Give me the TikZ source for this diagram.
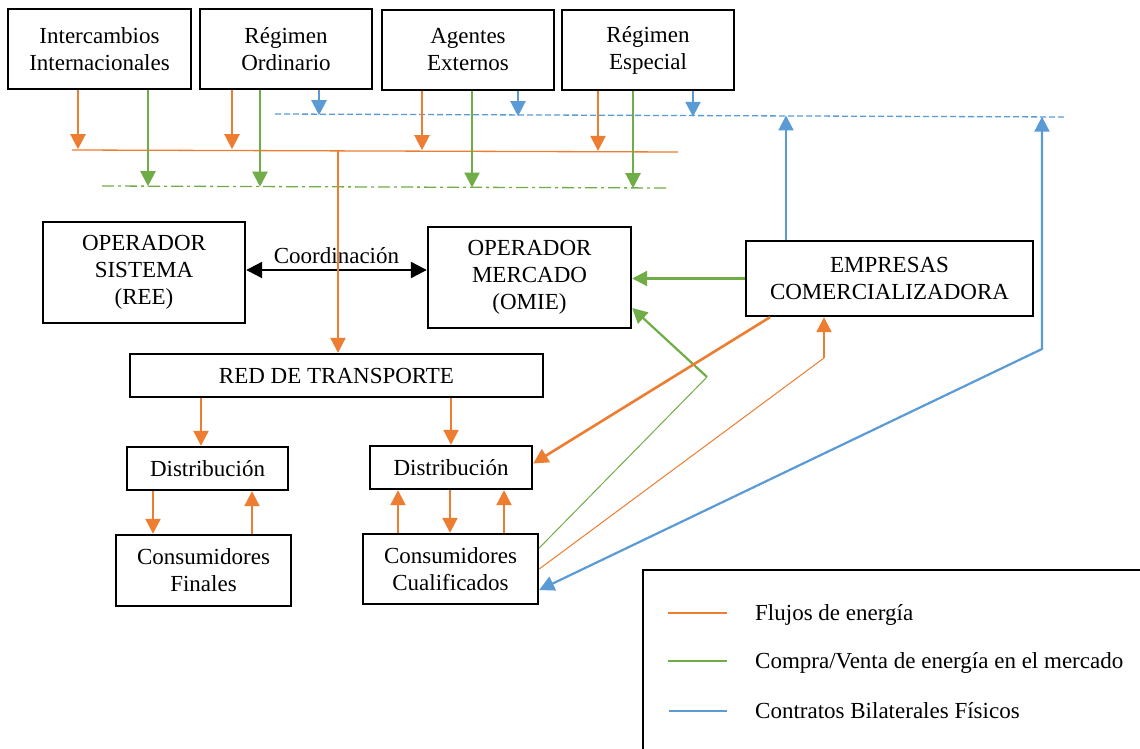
\documentclass[tikz,border=0pt]{standalone}
\usepackage{fontspec}
\setmainfont{Liberation Serif}
\usetikzlibrary{arrows.meta,calc}
\definecolor{eorange}{HTML}{ED7D31}
\definecolor{egreen}{HTML}{70AD47}
\definecolor{eblue}{HTML}{5B9BD5}
\begin{document}
\begin{tikzpicture}[x=1pt,y=-1pt,
  box/.style={draw=black,line width=2.4pt,align=center,inner sep=0pt,font=\fontsize{23}{27}\selectfont},
  lbl/.style={inner sep=0pt,font=\fontsize{23}{27}\selectfont},
  oarr/.style={eorange,line width=2.2pt,-{Triangle[width=15pt,length=15pt]}},
  garr/.style={egreen,line width=2.2pt,-{Triangle[width=15pt,length=15pt]}},
  barr/.style={eblue,line width=2.2pt,-{Triangle[width=15pt,length=15pt]}},
  karr/.style={black,line width=2.2pt,{Triangle[width=16pt,length=16pt]}-{Triangle[width=16pt,length=16pt]}},
  obus/.style={eorange,line width=1.3pt},
  gbus/.style={egreen,line width=1.3pt,dash pattern=on 12pt off 4pt on 3pt off 4pt},
  bbus/.style={eblue,line width=1.3pt,dash pattern=on 6pt off 3pt}]
\useasboundingbox (0,0) rectangle (1140,749);
\fill[white] (0,0) rectangle (1140,749);
\clip (0,0) rectangle (1140,749);

% top boxes
\node[box,minimum width=183pt,minimum height=80pt] (ii) at (99.5,49) {Intercambios\\Internacionales};
\node[box,minimum width=172pt,minimum height=80pt] (ro) at (286,49) {Régimen\\Ordinario};
\node[box,minimum width=172pt,minimum height=80pt] (ae) at (468,50) {Agentes\\Externos};
\node[box,minimum width=172pt,minimum height=80pt] (re) at (648,50) {Régimen\\Especial};

% middle boxes
\node[box,minimum width=202pt,minimum height=101pt] (os) at (144,272.5) {OPERADOR\\SISTEMA\\(REE)};
\node[box,minimum width=203pt,minimum height=101pt] (om) at (529.5,277.5) {OPERADOR\\MERCADO\\(OMIE)};
\node[box,minimum width=287pt,minimum height=75pt] (ec) at (889.5,278.5) {EMPRESAS\\COMERCIALIZADORA};
\node[box,minimum width=413pt,minimum height=43pt] (rt) at (336.5,375.5) {RED DE TRANSPORTE};
\node[box,minimum width=161pt,minimum height=43pt] (d1) at (207.5,468.5) {Distribución};
\node[box,minimum width=162pt,minimum height=43pt] (d2) at (451,467.5) {Distribución};
\node[box,minimum width=175pt,minimum height=71pt] (cf) at (203.5,570.5) {Consumidores\\Finales};
\node[box,minimum width=175pt,minimum height=70pt] (cc) at (450.5,569) {Consumidores\\Cualificados};

% buses
\coordinate (obL) at (72,150); \coordinate (obR) at (678,152);
\coordinate (gbL) at (102,186); \coordinate (gbR) at (667,188);
\coordinate (bbL) at (275,114); \coordinate (bbR) at (1065,117);
\draw[obus] (obL) -- (obR);
\draw[gbus] (gbL) -- (gbR);
\draw[bbus] (bbL) -- (bbR);

% top arrows
\draw[oarr] ([xshift=-21.5pt]ii.south) -- ++(0,59);
\draw[garr] ([xshift=48.5pt]ii.south) -- ++(0,96);
\draw[oarr] ([xshift=-54pt]ro.south) -- ++(0,59);
\draw[garr] ([xshift=-26pt]ro.south) -- ++(0,96.5);
\draw[barr] ([xshift=33pt]ro.south) -- ++(0,25);
\draw[oarr] ([xshift=-46pt]ae.south) -- ++(0,59);
\draw[garr] ([xshift=4pt]ae.south) -- ++(0,96.3);
\draw[barr] ([xshift=50pt]ae.south) -- ++(0,25);
\draw[oarr] ([xshift=-50pt]re.south) -- ++(0,59.7);
\draw[garr] ([xshift=-15pt]re.south) -- ++(0,97);
\draw[barr] ([xshift=45pt]re.south) -- ++(0,25.6);

% coordination
\draw[karr] ([yshift=2.5pt]os.east) -- ([yshift=2.5pt]os.east -| om.west)
  node[lbl,midway,above=5pt] (coord) {Coordinación};

% orange down to red de transporte
\coordinate (ob) at (338,151);
\draw[oarr] (ob) -- (ob |- rt.north);

% empresas connections
\draw[garr] (ec.west) -- (ec.west -| om.east);
\draw[barr] ([xshift=-103.5pt]ec.north) -- ++(0,-124.3);
\coordinate (bt) at (1042,116.7);
\coordinate (bm) at (1042,349);
\draw[eblue,line width=2.2pt,{Triangle[width=15pt,length=15pt]}-{Triangle[width=15pt,length=15pt]}]
  ([yshift=-21pt]cc.east) -- (bm) -- (bt);
\coordinate (gm) at (707,377);
\draw[egreen,line width=1pt] ([yshift=21pt]cc.east) -- (gm);
\draw[garr] (gm) -- ([yshift=-30.5pt]om.east);
\coordinate (om2) at (824,358);
\draw[eorange,line width=1pt] (cc.east) -- (om2);
\draw[oarr] (om2) -- (om2 |- ec.south);
\draw[eorange,line width=2.6pt,-{Triangle[width=15pt,length=15pt]}]
  ([xshift=-119.5pt]ec.south) -- ([yshift=4pt]d2.east);

% distribution
\draw[oarr] ([xshift=-6.5pt]d1.north |- rt.south) -- ([xshift=-6.5pt]d1.north);
\draw[oarr] (d2.north |- rt.south) -- (d2.north);
\draw[oarr] ([xshift=-54.5pt]d1.south) -- ([xshift=-54.5pt]d1.south |- cf.north);
\draw[oarr] ([xshift=44.5pt]d1.south |- cf.north) -- ([xshift=44.5pt]d1.south);
\draw[oarr] ([xshift=-53pt]d2.south |- cc.north) -- ([xshift=-53pt]d2.south);
\draw[oarr] ([xshift=-1pt]d2.south) -- ([xshift=-1pt]d2.south |- cc.north);
\draw[oarr] ([xshift=53pt]d2.south |- cc.north) -- ([xshift=53pt]d2.south);

% legend
\draw[line width=2.4pt] (643,770) -- (643,570) -- (1160,570);
\draw[eorange,line width=1.2pt] (668,613) -- (727,613);
\draw[egreen,line width=1.2pt] (668,661) -- (727,661);
\draw[eblue,line width=1.2pt] (669,711) -- (727,711);
\node[lbl,anchor=base west] (l1) at (755,620) {Flujos de energía};
\node[lbl,anchor=base west] (l2) at (755,668) {Compra/Venta de energía en el mercado};
\node[lbl,anchor=base west] (l3) at (755,718) {Contratos Bilaterales Físicos};
\end{tikzpicture}
\end{document}
